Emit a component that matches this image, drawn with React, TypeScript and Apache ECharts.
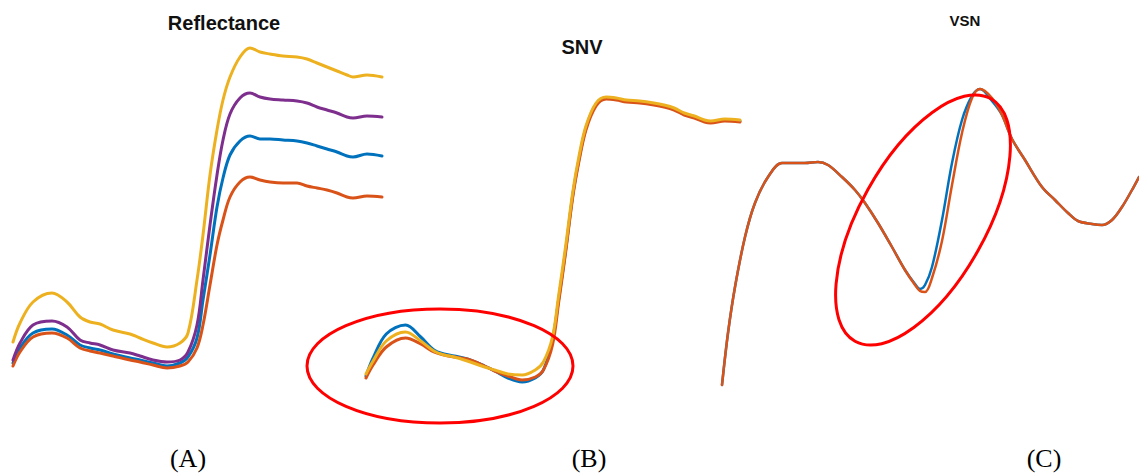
import React, { useEffect, useRef } from 'react';
import * as echarts from 'echarts';

// Wavelength samples (nm) shared by panels A and B
const WAVELENGTH_AB = [400, 414, 440, 478, 508, 534, 554, 574, 600, 634, 654, 680, 708, 734, 750, 768, 780, 794, 808, 820, 834, 854, 874, 894, 914, 940, 968, 988, 1008, 1028, 1048, 1068, 1080, 1108, 1138];

// Panel A: raw reflectance
const REFL_YELLOW = [0.076, 0.114, 0.156, 0.174, 0.156, 0.126, 0.116, 0.112, 0.100, 0.092, 0.084, 0.074, 0.066, 0.074, 0.094, 0.200, 0.290, 0.410, 0.500, 0.560, 0.606, 0.646, 0.664, 0.656, 0.652, 0.648, 0.646, 0.642, 0.634, 0.626, 0.618, 0.610, 0.606, 0.610, 0.606];
const REFL_PURPLE = [0.040, 0.074, 0.110, 0.118, 0.106, 0.080, 0.074, 0.070, 0.060, 0.054, 0.048, 0.040, 0.036, 0.040, 0.056, 0.110, 0.200, 0.310, 0.410, 0.480, 0.532, 0.564, 0.574, 0.566, 0.562, 0.560, 0.558, 0.554, 0.546, 0.540, 0.534, 0.526, 0.524, 0.528, 0.526];
const REFL_BLUE = [0.034, 0.064, 0.094, 0.102, 0.090, 0.070, 0.064, 0.060, 0.052, 0.044, 0.040, 0.034, 0.028, 0.034, 0.046, 0.084, 0.160, 0.250, 0.346, 0.404, 0.450, 0.478, 0.488, 0.482, 0.482, 0.480, 0.478, 0.474, 0.468, 0.462, 0.456, 0.448, 0.446, 0.452, 0.448];
const REFL_ORANGE = [0.028, 0.056, 0.086, 0.094, 0.084, 0.064, 0.058, 0.054, 0.048, 0.040, 0.036, 0.030, 0.024, 0.028, 0.036, 0.064, 0.110, 0.190, 0.270, 0.320, 0.366, 0.396, 0.406, 0.400, 0.396, 0.394, 0.394, 0.388, 0.384, 0.380, 0.374, 0.366, 0.364, 0.368, 0.366];

// Panel B: SNV
const SNV_BLUE = [-1.46, -1.28, -1.04, -0.95, -1.07, -1.20, -1.24, -1.26, -1.29, -1.36, -1.41, -1.48, -1.52, -1.48, -1.40, -1.10, -0.70, -0.20, 0.35, 0.70, 1.02, 1.26, 1.32, 1.31, 1.29, 1.28, 1.26, 1.24, 1.21, 1.16, 1.13, 1.09, 1.08, 1.10, 1.09];
const SNV_YELLOW = [-1.44, -1.31, -1.11, -1.02, -1.11, -1.21, -1.25, -1.27, -1.31, -1.37, -1.40, -1.44, -1.45, -1.40, -1.32, -1.07, -0.66, -0.16, 0.38, 0.73, 1.04, 1.27, 1.33, 1.32, 1.30, 1.29, 1.27, 1.25, 1.22, 1.17, 1.14, 1.10, 1.09, 1.11, 1.10];
const SNV_ORANGE = [-1.48, -1.35, -1.17, -1.08, -1.14, -1.22, -1.25, -1.27, -1.29, -1.36, -1.41, -1.46, -1.50, -1.47, -1.40, -1.15, -0.73, -0.22, 0.33, 0.68, 1.00, 1.24, 1.31, 1.30, 1.28, 1.27, 1.25, 1.23, 1.20, 1.15, 1.12, 1.08, 1.07, 1.09, 1.08];

// Panel C: VSN
const WAVELENGTH_C = [400, 412, 426, 446, 466, 492, 520, 546, 566, 592, 612, 640, 666, 686, 712, 740, 766, 786, 796, 806, 820, 840, 860, 880, 900, 916, 940, 960, 980, 1006, 1040, 1066, 1092, 1112, 1140, 1160, 1180, 1200, 1220, 1234];
const VSN_BLUE = [-1.55, -1.03, -0.57, -0.07, 0.27, 0.53, 0.67, 0.67, 0.67, 0.68, 0.65, 0.53, 0.40, 0.27, 0.07, -0.17, -0.40, -0.54, -0.59, -0.55, -0.37, 0.10, 0.67, 1.10, 1.34, 1.41, 1.29, 1.15, 0.91, 0.70, 0.43, 0.30, 0.17, 0.09, 0.06, 0.05, 0.10, 0.23, 0.40, 0.53];
const VSN_ORANGE = [-1.55, -1.03, -0.57, -0.07, 0.27, 0.53, 0.67, 0.67, 0.67, 0.68, 0.65, 0.53, 0.40, 0.27, 0.07, -0.17, -0.40, -0.55, -0.61, -0.62, -0.48, -0.11, 0.45, 0.97, 1.32, 1.41, 1.32, 1.15, 0.91, 0.70, 0.43, 0.30, 0.17, 0.09, 0.06, 0.05, 0.10, 0.23, 0.40, 0.53];

const PANEL_TITLES = ['Reflectance', 'SNV', 'VSN'];
const PANEL_LABELS = ['(A)', '(B)', '(C)'];

const BLUE = '#0072BD';
const ORANGE = '#D95319';
const YELLOW = '#EDB120';
const PURPLE = '#7E2F8E';

function pairs(xs: number[], ys: number[]) {
  return xs.map((x, i) => [x, ys[i]]);
}

function line(name: string, xs: number[], ys: number[], color: string, idx: number, width: number) {
  return {
    name,
    type: 'line',
    xAxisIndex: idx,
    yAxisIndex: idx,
    data: pairs(xs, ys),
    smooth: 0.35,
    symbol: 'none',
    clip: false,
    lineStyle: { color, width, cap: 'round', join: 'round' },
    emphasis: { disabled: true },
  };
}

export default function App() {
  const ref = useRef<HTMLDivElement>(null);

  useEffect(() => {
    if (!ref.current) return;
    const chart = echarts.init(ref.current, null, { renderer: 'svg' });
    const hiddenAxis = (extra: any) => ({
      type: 'value',
      show: false,
      splitLine: { show: false },
      ...extra,
    });
    const titleFont = 'bold 20px "Liberation Sans", Arial, Helvetica, sans-serif';
    const labelFont = '26px "Liberation Serif", "Times New Roman", serif';
    chart.setOption({
      animation: false,
      backgroundColor: '#ffffff',
      grid: [
        { left: 13, top: 30, width: 369, height: 350, outerBoundsMode: 'none' },
        { left: 366, top: 30, width: 374, height: 400, outerBoundsMode: 'none' },
        { left: 722, top: 30, width: 417, height: 400, outerBoundsMode: 'none' },
      ],
      xAxis: [
        hiddenAxis({ gridIndex: 0, min: 400, max: 1138 }),
        hiddenAxis({ gridIndex: 1, min: 400, max: 1138 }),
        hiddenAxis({ gridIndex: 2, min: 400, max: 1234 }),
      ],
      yAxis: [
        hiddenAxis({ gridIndex: 0, min: 0, max: 0.7 }),
        hiddenAxis({ gridIndex: 1, min: -2, max: 2 }),
        hiddenAxis({ gridIndex: 2, min: -2, max: 2 }),
      ],
      series: [
        line('A blue', WAVELENGTH_AB, REFL_BLUE, BLUE, 0, 3),
        line('A orange', WAVELENGTH_AB, REFL_ORANGE, ORANGE, 0, 3),
        line('A yellow', WAVELENGTH_AB, REFL_YELLOW, YELLOW, 0, 3),
        line('A purple', WAVELENGTH_AB, REFL_PURPLE, PURPLE, 0, 3),
        line('B blue', WAVELENGTH_AB, SNV_BLUE, BLUE, 1, 3),
        line('B orange', WAVELENGTH_AB, SNV_ORANGE, ORANGE, 1, 3),
        line('B yellow', WAVELENGTH_AB, SNV_YELLOW, YELLOW, 1, 3),
        line('C blue', WAVELENGTH_C, VSN_BLUE, BLUE, 2, 2.5),
        line('C orange', WAVELENGTH_C, VSN_ORANGE, ORANGE, 2, 2.5),
      ],
      graphic: [
        { type: 'text', x: 224, y: 23, z: 100, style: { text: PANEL_TITLES[0], font: titleFont, fill: '#111', textAlign: 'center', textVerticalAlign: 'middle' } },
        { type: 'text', x: 582, y: 47, z: 100, style: { text: PANEL_TITLES[1], font: titleFont, fill: '#111', textAlign: 'center', textVerticalAlign: 'middle' } },
        { type: 'text', x: 965, y: 20, z: 100, style: { text: PANEL_TITLES[2], font: 'bold 15px "Liberation Sans", Arial, Helvetica, sans-serif', fill: '#111', textAlign: 'center', textVerticalAlign: 'middle' } },
        { type: 'text', x: 188, y: 458, z: 100, style: { text: PANEL_LABELS[0], font: labelFont, fill: '#000', textAlign: 'center', textVerticalAlign: 'middle' } },
        { type: 'text', x: 589, y: 458, z: 100, style: { text: PANEL_LABELS[1], font: labelFont, fill: '#000', textAlign: 'center', textVerticalAlign: 'middle' } },
        { type: 'text', x: 1044, y: 458, z: 100, style: { text: PANEL_LABELS[2], font: labelFont, fill: '#000', textAlign: 'center', textVerticalAlign: 'middle' } },
        { type: 'ellipse', x: 440, y: 366, z: 100, shape: { cx: 0, cy: 0, rx: 133, ry: 57 }, style: { fill: 'none', stroke: '#ff0000', lineWidth: 3 } },
        { type: 'ellipse', x: 923, y: 220, z: 100, rotation: 1.06, shape: { cx: 0, cy: 0, rx: 139, ry: 63 }, style: { fill: 'none', stroke: '#ff0000', lineWidth: 3 } },
      ],
    });
    return () => chart.dispose();
  }, []);

  return (
    <div
      ref={ref}
      style={{ position: 'fixed', left: 0, top: 0, width: 1139, height: 475, background: '#fff' }}
    />
  );
}
